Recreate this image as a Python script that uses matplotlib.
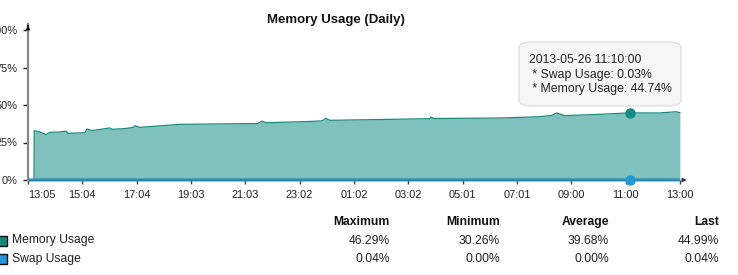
import matplotlib

matplotlib.use("Agg")
import matplotlib.pyplot as plt
from matplotlib.patches import FancyBboxPatch, Rectangle

plt.rcParams["font.family"] = ["Liberation Sans", "DejaVu Sans"]

# hours since 13:00 and memory usage in percent
mem_hours = [0.0, 0.22, 0.23, 0.44, 0.66, 0.81, 1.18, 1.40, 1.47, 2.10, 2.17, 2.36,
             3.02, 3.10, 3.57, 3.86, 3.94, 4.12, 5.59, 8.17, 8.46, 8.61, 8.76,
             10.20, 10.82, 10.97, 11.11, 12.59, 14.80, 14.83, 14.94, 17.37,
             18.84, 19.29, 19.47, 19.76, 21.05, 22.17, 23.26, 23.85, 24.0]
mem_pct = [0.0, 0.0, 32.9, 32.0, 30.3, 31.8, 32.0, 32.6, 31.1, 31.5, 34.0, 33.0,
           34.7, 33.8, 34.3, 35.0, 36.2, 35.1, 37.1, 37.6, 37.6, 39.3, 38.2,
           38.9, 39.4, 41.1, 39.8, 40.2, 40.9, 42.0, 41.0, 41.3,
           42.2, 43.1, 44.7, 42.9, 43.8, 44.74, 44.7, 45.5, 44.99]
swap_hours = [0.0, 24.0]
swap_pct = [0.03, 0.04]

tick_hours = [0, 2, 4, 6, 8, 10, 12, 14, 16, 18, 20, 22, 24]
tick_labels = ["13:05", "15:04", "17:04", "19:03", "21:03", "23:02", "01:02",
               "03:02", "05:01", "07:01", "09:00", "11:00", "13:00"]
y_ticks = [0, 25, 50, 75, 100]
y_labels = ["0%", "25%", "50%", "75%", "100%"]

hover_hour = 22.17
hover_mem = 44.74
hover_swap = 0.03
hover_lines = ["2013-05-26 11:10:00", " * Swap Usage: 0.03%", " * Memory Usage: 44.74%"]

series_names = ["Memory Usage", "Swap Usage"]
stat_headers = ["Maximum", "Minimum", "Average", "Last"]
mem_stats = ["46.29%", "30.26%", "39.68%", "44.99%"]
swap_stats = ["0.04%", "0.00%", "0.00%", "0.04%"]

W, H = 738, 275
FILL = "#80c1bd"
LINE = "#1b8a80"
MEM_DOT = "#138a7f"
SWAP = "#2a8ab8"
SWAP_DOT = "#1e9bd7"
TXT = "#222222"

fig = plt.figure(figsize=(W / 100, H / 100), dpi=100)


def px(x, y):
    return x / W, 1 - y / H


left, right, top, bottom = 28, 688, 24, 180
ax = fig.add_axes([left / W, 1 - bottom / H, (right - left) / W, (bottom - top) / H])
ax.set_xlim(0, 24.3)
ax.set_ylim(0, 104)

ax.fill_between(mem_hours, mem_pct, 0, color=FILL, linewidth=0)
ax.plot(mem_hours, mem_pct, color=LINE, linewidth=0.9)
ax.plot(swap_hours, swap_pct, color=SWAP, linewidth=2.2, clip_on=False, solid_capstyle="butt")
ax.plot([hover_hour], [hover_mem], "o", color=MEM_DOT, markersize=6.5, zorder=5)
ax.plot([hover_hour], [hover_swap], "o", color=SWAP_DOT, markersize=6.5, zorder=5, clip_on=False)

for side in ["top", "right", "bottom"]:
    ax.spines[side].set_visible(False)
ax.spines["left"].set_color("#888888")
ax.spines["left"].set_linewidth(1.6)

ax.set_xticks(tick_hours)
ax.set_xticklabels(tick_labels)
ax.set_yticks(y_ticks)
ax.set_yticklabels(y_labels)
ax.tick_params(axis="x", length=3, width=1, color="#444444", pad=4.3, labelsize=7.9, labelcolor=TXT)
ax.tick_params(axis="y", length=3.5, width=1, color="#222222", pad=4.3, labelsize=7.9, labelcolor=TXT)
ax.get_xticklabels()[0].set_horizontalalignment("left")

# axis arrows
ax.annotate("", xy=(24.35, 0), xytext=(24.0, 0), xycoords="data",
            arrowprops=dict(arrowstyle="-|>", color="#333333", lw=0.8, mutation_scale=6),
            annotation_clip=False)
ax.annotate("", xy=(0, 105), xytext=(0, 101), xycoords="data",
            arrowprops=dict(arrowstyle="-|>", color="#111111", lw=0.8, mutation_scale=6),
            annotation_clip=False)

fig.text(*px(336, 20), "Memory Usage (Daily)", ha="center", va="center",
         fontsize=9.5, fontweight="bold", color="#111111")

# tooltip box
bx0, by0, bx1, by1 = 519, 42, 681, 106
fig.patches.append(FancyBboxPatch(px(bx0, by1), (bx1 - bx0) / W, (by1 - by0) / H,
                                  boxstyle="round,pad=0,rounding_size=0.02",
                                  transform=fig.transFigure, facecolor="#f6f6f6",
                                  edgecolor="#e0e0e0", linewidth=1, zorder=6))
for i, line in enumerate(hover_lines):
    fig.text(*px(529, 60 + i * 14.5), line, ha="left", va="center", fontsize=8.8,
             color=TXT, zorder=7)

# summary table
header_right = [390, 500, 609, 719]
for xr, head in zip(header_right, stat_headers):
    fig.text(*px(xr, 222), head, ha="right", va="center", fontsize=8.7,
             fontweight="bold", color="#111111")
row_y = [240.5, 259]
row_colors = ["#138a7f", "#1e96d8"]
for y, name, color, stats in zip(row_y, series_names, row_colors, [mem_stats, swap_stats]):
    fig.patches.append(Rectangle(px(-3, y + 5), 10 / W, 10 / H, transform=fig.transFigure,
                                 facecolor=color, edgecolor="#111111", linewidth=1))
    fig.text(*px(12, y), name, ha="left", va="center", fontsize=8.7, color=TXT)
    for xr, val in zip(header_right, stats):
        fig.text(*px(xr, y), val, ha="right", va="center", fontsize=8.7, color=TXT)

fig.savefig("out.png", dpi=100)
